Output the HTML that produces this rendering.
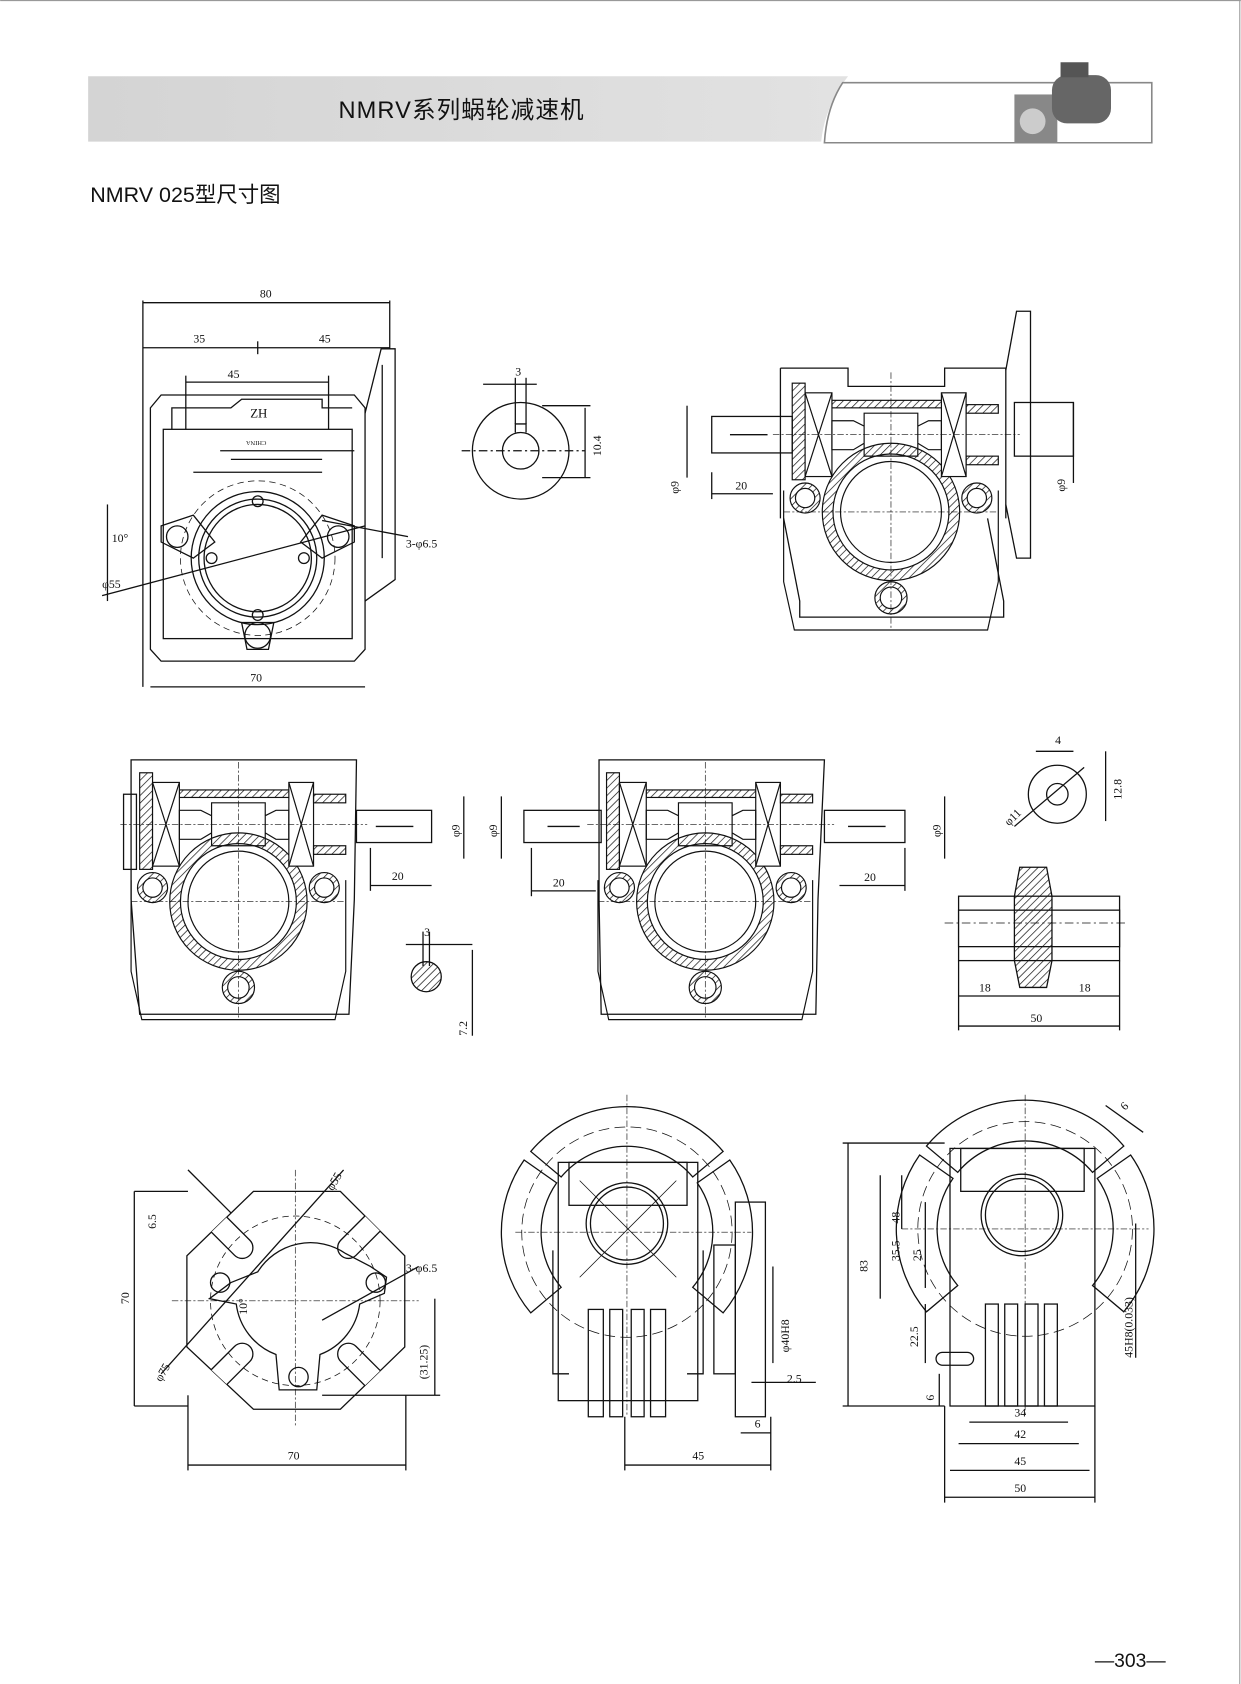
<!DOCTYPE html>
<html><head><meta charset="utf-8"><style>
html,body{margin:0;padding:0;background:#fff;}
svg{display:block}
text{font-family:"Liberation Serif","Noto Serif CJK SC",serif;fill:#111}
.s{font-family:"Liberation Sans","Noto Sans CJK SC",sans-serif}
</style></head><body>
<svg width="1241" height="1684" viewBox="0 0 1156 1569" xmlns="http://www.w3.org/2000/svg">
<defs>
<linearGradient id="g" x1="0" x2="1"><stop offset="0" stop-color="#d4d4d4"/><stop offset="1" stop-color="#e2e2e2"/></linearGradient>
<linearGradient id="f" x1="0" x2="1"><stop offset="0" stop-color="#999"/><stop offset="1" stop-color="#fff"/></linearGradient>
<pattern id="h" width="5" height="5" patternUnits="userSpaceOnUse" patternTransform="rotate(45)"><line x1="0" y1="0" x2="0" y2="5" stroke="#111" stroke-width="1.3"/></pattern>
<clipPath id="oct"><polygon points="236,1110 317,1110 377,1170 377,1255 317,1313 236,1313 174,1255 174,1170"/></clipPath>
<g id="sec" stroke="#111" stroke-width="1.1">
<path d="M0 -64 A64 64 0 1 1 0 64 A64 64 0 1 1 0 -64 Z M0 -54 A54 54 0 1 0 0 54 A54 54 0 1 0 0 -54 Z" fill="url(#h)" fill-rule="evenodd"/>
<circle cx="0" cy="0" r="47" fill="none"/>
<path d="M-80 -13 m-14 0 a14 14 0 1 0 28 0 a14 14 0 1 0 -28 0 Z M-80 -13 m-9 0 a9 9 0 1 1 18 0 a9 9 0 1 1 -18 0Z" fill="url(#h)" fill-rule="evenodd"/>
<path d="M80 -13 m-14 0 a14 14 0 1 0 28 0 a14 14 0 1 0 -28 0 Z M80 -13 m-9 0 a9 9 0 1 1 18 0 a9 9 0 1 1 -18 0Z" fill="url(#h)" fill-rule="evenodd"/>
<path d="M0 80 m-15 0 a15 15 0 1 0 30 0 a15 15 0 1 0 -30 0 Z M0 80 m-10 0 a10 10 0 1 1 20 0 a10 10 0 1 1 -20 0Z" fill="url(#h)" fill-rule="evenodd"/>
<rect x="-55" y="-104" width="105" height="7" fill="url(#h)"/>
<rect x="-92" y="-120" width="12" height="90" fill="url(#h)"/>
<rect x="-80" y="-111" width="25" height="78" fill="#fff"/>
<path d="M-80 -111 L-55 -33 M-55 -111 L-80 -33" fill="none"/>
<rect x="47" y="-111" width="23" height="78" fill="#fff"/>
<path d="M47 -111 L70 -33 M70 -111 L47 -33" fill="none"/>
<rect x="70" y="-100" width="30" height="8" fill="url(#h)"/>
<rect x="70" y="-52" width="30" height="8" fill="url(#h)"/>
<path d="M-55 -85 L-35 -85 L-25 -80 L-25 -64 L-35 -58 L-55 -58 Z M-25 -92 L25 -92 L25 -52 L-25 -52 Z M25 -80 L35 -85 L47 -85 L47 -58 L35 -58 L25 -64" fill="none"/>
<line x1="-110" y1="-72" x2="120" y2="-72" stroke-dasharray="6 2 2 2" stroke-width="0.6"/>
<line x1="-100" y1="0" x2="100" y2="0" stroke-dasharray="6 2 2 2" stroke-width="0.6"/>
<line x1="0" y1="-130" x2="0" y2="110" stroke-dasharray="6 2 2 2" stroke-width="0.6"/>
<path d="M-100 -20 L-100 65 L-90 110 L90 110 L100 65 L100 -20" fill="none"/>
</g>
</defs>
<rect x="0" y="0" width="1156" height="1569" fill="#fff"/>
<line x1="0" y1="0.5" x2="1156" y2="0.5" stroke="#999"/>
<line x1="1155" y1="0" x2="1155" y2="1569" stroke="#999"/>
<path d="M82 71 H790 Q768 100 765 132 H82 Z" fill="url(#g)"/>
<path d="M1073 77 H785 Q770 100 768 133 H1073 Z" fill="none" stroke="#888" stroke-width="1.5"/>
<g stroke="url(#f)" stroke-width="1.5">
<line x1="782" y1="84" x2="920" y2="84"/><line x1="778" y1="91" x2="920" y2="91"/><line x1="776" y1="98" x2="920" y2="98"/><line x1="774" y1="105" x2="920" y2="105"/><line x1="772" y1="112" x2="920" y2="112"/><line x1="771" y1="119" x2="920" y2="119"/><line x1="770" y1="126" x2="920" y2="126"/></g>
<g><rect x="945" y="88" width="40" height="45" fill="#888"/><rect x="980" y="70" width="55" height="45" rx="14" fill="#666"/><rect x="988" y="58" width="26" height="14" fill="#555"/><circle cx="962" cy="113" r="12" fill="#ccc"/></g>
<text class="s" x="430" y="110" font-size="22" text-anchor="middle" letter-spacing="1">NMRV系列蜗轮减速机</text>
<text class="s" x="84" y="188" font-size="20">NMRV 025型尺寸图</text>
<text class="s" x="1020" y="1553" font-size="18">—303—</text>
<g fill="none" stroke="#111" stroke-width="1.2">
<!-- view 1 -->
<path d="M140 380 L150 368 L330 368 L340 380 L340 605 L330 616 L150 616 L140 605 Z"/>
<rect x="152" y="400" width="176" height="195"/>
<path d="M160 400 L160 380 L215 380 L225 372 L300 372 L300 380 L328 380"/>
<path d="M205 420 L330 420 M215 428 L300 428 M180 440 L300 440"/>
<path d="M340 385 L355 325 L368 325 L368 540 L340 560"/><line x1="356" y1="340" x2="356" y2="520"/>
<circle cx="240" cy="520" r="72" stroke-dasharray="6 4" stroke-width="0.7"/>
<circle cx="240" cy="520" r="62"/><circle cx="240" cy="520" r="55"/><circle cx="240" cy="520" r="50"/>
<path d="M150 490 L180 480 L200 505 L180 520 L150 505 Z M330 490 L300 480 L280 505 L300 520 L330 505 Z M225 580 L255 580 L250 605 L230 605 Z"/>
<circle cx="165" cy="500" r="10"/><circle cx="315" cy="500" r="10"/><circle cx="240" cy="592" r="12"/>
<circle cx="240" cy="467" r="5"/><circle cx="240" cy="573" r="5"/><circle cx="197" cy="520" r="5"/><circle cx="283" cy="520" r="5"/>
<line x1="133" y1="280" x2="133" y2="640"/><line x1="363" y1="280" x2="363" y2="325"/>
<line x1="133" y1="282" x2="363" y2="282"/><line x1="133" y1="324" x2="363" y2="324"/>
<line x1="240" y1="318" x2="240" y2="330"/><line x1="173" y1="356" x2="306" y2="356"/>
<line x1="173" y1="350" x2="173" y2="400"/><line x1="306" y1="350" x2="306" y2="400"/>
<line x1="140" y1="640" x2="340" y2="640"/>
<line x1="95" y1="555" x2="340" y2="490"/><line x1="300" y1="485" x2="380" y2="500"/>
<line x1="100" y1="470" x2="100" y2="560"/>
<!-- view 2 key -->
<circle cx="485" cy="420" r="45"/><path d="M485 403 A17 17 0 1 0 485 437 A17 17 0 1 0 485 403 M480 403 L480 395 L490 395 L490 403"/>
<line x1="450" y1="358" x2="500" y2="358"/><line x1="480" y1="352" x2="480" y2="395"/><line x1="490" y1="352" x2="490" y2="395"/>
<line x1="545" y1="380" x2="545" y2="445"/><line x1="505" y1="378" x2="550" y2="378"/><line x1="505" y1="445" x2="550" y2="445"/>
<line x1="430" y1="420" x2="545" y2="420" stroke-dasharray="8 3 2 3"/>
<!-- view 3 -->
<path d="M727 343 L790 343 L790 360 L880 360 L880 343 L937 343 L937 483"/><line x1="727" y1="343" x2="727" y2="483"/>
<path d="M730 483 L745 560 L745 575 L935 575 L935 560 L920 483"/>
<path d="M937 345 L947 290 L960 290 L960 520 L947 520 L937 470"/>
<rect x="663" y="388" width="75" height="34"/><line x1="680" y1="405" x2="715" y2="405"/>
<rect x="945" y="375" width="55" height="50"/>
<use href="#sec" transform="translate(830 477)"/>
<line x1="640" y1="378" x2="640" y2="445"/><line x1="663" y1="460" x2="720" y2="460"/><line x1="1000" y1="375" x2="1000" y2="450"/>
<line x1="663" y1="440" x2="663" y2="465"/>
<!-- row 2 view a -->
<path d="M122 708 L122 838 L130 945 L325 945 L330 838 L332 708 Z"/>
<rect x="115" y="740" width="12" height="70"/>
<rect x="332" y="755" width="70" height="30"/><line x1="350" y1="770" x2="385" y2="770"/>
<use href="#sec" transform="translate(222 840)"/>
<line x1="432" y1="742" x2="432" y2="800"/><line x1="345" y1="825" x2="402" y2="825"/><line x1="345" y1="790" x2="345" y2="830"/>
<path d="M383 910 A14 14 0 1 0 411 910 A14 14 0 1 0 383 910 Z" fill="url(#h)"/><line x1="378" y1="880" x2="440" y2="880"/><line x1="440" y1="885" x2="440" y2="965"/>
<line x1="394" y1="868" x2="394" y2="900"/><line x1="400" y1="868" x2="400" y2="900"/>
<!-- row 2 view b -->
<path d="M558 708 L558 838 L560 945 L760 945 L762 838 L768 708 Z"/>
<rect x="488" y="755" width="72" height="30"/><line x1="510" y1="770" x2="540" y2="770"/>
<rect x="768" y="755" width="75" height="30"/><line x1="790" y1="770" x2="825" y2="770"/>
<use href="#sec" transform="translate(657 840)"/>
<line x1="467" y1="742" x2="467" y2="800"/><line x1="495" y1="830" x2="555" y2="830"/><line x1="495" y1="790" x2="495" y2="835"/>
<line x1="880" y1="742" x2="880" y2="800"/><line x1="782" y1="825" x2="843" y2="825"/><line x1="843" y1="790" x2="843" y2="830"/>
<!-- key 3 -->
<circle cx="985" cy="740" r="27"/><circle cx="985" cy="740" r="10"/>
<line x1="1030" y1="700" x2="1030" y2="765"/><line x1="965" y1="700" x2="1000" y2="700"/>
<line x1="945" y1="770" x2="1010" y2="715"/>
<!-- wormwheel -->
<rect x="893" y="835" width="150" height="60"/><rect x="893" y="848" width="150" height="34" fill="#fff"/>
<path d="M945 835 L950 808 L975 808 L980 835 L980 895 L975 920 L950 920 L945 895 Z" fill="url(#h)"/>
<line x1="880" y1="860" x2="1050" y2="860" stroke-dasharray="8 3 2 3" stroke-width="0.7"/>
<line x1="893" y1="928" x2="1043" y2="928"/><line x1="893" y1="956" x2="1043" y2="956"/>
<line x1="893" y1="895" x2="893" y2="960"/><line x1="1043" y1="895" x2="1043" y2="960"/>
<!-- row 3 view a -->
<polygon points="236,1110 317,1110 377,1170 377,1255 317,1313 236,1313 174,1255 174,1170"/>
<g clip-path="url(#oct)" fill="#fff">
<rect x="60" y="-10" width="100" height="20" rx="10" transform="translate(275 1212) rotate(-45)"/>
<rect x="60" y="-10" width="100" height="20" rx="10" transform="translate(275 1212) rotate(45)"/>
<rect x="60" y="-10" width="100" height="20" rx="10" transform="translate(275 1212) rotate(135)"/>
<rect x="60" y="-10" width="100" height="20" rx="10" transform="translate(275 1212) rotate(-135)"/>
</g>
<circle cx="275" cy="1212" r="79" stroke-dasharray="6 4" stroke-width="0.7"/>
<path d="M215 1195 L240 1185 A58 58 0 0 1 322 1168 L345 1180 L360 1190 L358 1205 L335 1215 A58 58 0 0 1 298 1262 L295 1295 L260 1295 L257 1262 A58 58 0 0 1 220 1215 L195 1210 Z"/>
<circle cx="205" cy="1195" r="9"/><circle cx="350" cy="1195" r="9"/><circle cx="278" cy="1283" r="9"/>
<line x1="125" y1="1110" x2="175" y2="1110"/><line x1="125" y1="1110" x2="125" y2="1310"/><line x1="125" y1="1310" x2="175" y2="1310"/>
<line x1="175" y1="1365" x2="378" y2="1365"/><line x1="175" y1="1300" x2="175" y2="1370"/><line x1="378" y1="1300" x2="378" y2="1370"/>
<line x1="405" y1="1210" x2="405" y2="1300"/><line x1="300" y1="1300" x2="410" y2="1300"/>
<line x1="150" y1="1280" x2="320" y2="1090"/><line x1="300" y1="1230" x2="390" y2="1180"/>
<line x1="175" y1="1090" x2="215" y2="1130"/>
<line x1="160" y1="1212" x2="390" y2="1212" stroke-dasharray="6 2 2 2" stroke-width="0.6"/>
<line x1="275" y1="1090" x2="275" y2="1330" stroke-dasharray="6 2 2 2" stroke-width="0.6"/>
<!-- row 3 view b -->
<path d="M494.4 1072.8 A117 117 0 0 1 673.6 1072.8 L645.3 1096.6 A80 80 0 0 0 522.7 1096.6 Z"/>
<path d="M679.8 1080.8 A117 117 0 0 1 673.6 1223.2 L645.3 1199.4 A80 80 0 0 0 649.5 1102.1 Z"/>
<path d="M494.4 1223.2 A117 117 0 0 1 488.2 1080.8 L518.5 1102.1 A80 80 0 0 0 522.7 1199.4 Z"/>
<circle cx="584" cy="1148" r="98" stroke-dasharray="10 5" stroke-width="0.7"/>
<rect x="520" y="1083" width="130" height="222"/>
<rect x="530" y="1083" width="110" height="40"/>
<circle cx="584" cy="1140" r="38"/><circle cx="584" cy="1140" r="34"/>
<line x1="540" y1="1100" x2="630" y2="1190" stroke-width="0.7"/><line x1="630" y1="1100" x2="540" y2="1190" stroke-width="0.7"/>
<rect x="548" y="1220" width="14" height="100"/><rect x="568" y="1220" width="12" height="100"/><rect x="588" y="1220" width="12" height="100"/><rect x="606" y="1220" width="14" height="100"/>
<path d="M515 1165 L515 1280 L530 1280 M655 1165 L655 1280 L640 1280"/>
<rect x="685" y="1120" width="28" height="200"/><rect x="665" y="1160" width="20" height="120"/>
<line x1="720" y1="1180" x2="720" y2="1270"/>
<line x1="582" y1="1365" x2="718" y2="1365"/><line x1="582" y1="1320" x2="582" y2="1370"/><line x1="718" y1="1320" x2="718" y2="1370"/>
<line x1="690" y1="1335" x2="718" y2="1335"/><line x1="700" y1="1288" x2="760" y2="1288"/>
<line x1="480" y1="1148" x2="700" y2="1148" stroke-dasharray="6 2 2 2" stroke-width="0.6"/>
<line x1="584" y1="1020" x2="584" y2="1320" stroke-dasharray="6 2 2 2" stroke-width="0.6"/>
<!-- row 3 view c -->
<path d="M863.1 1067.8 A120 120 0 0 1 1046.9 1067.8 L1017.8 1092.3 A82 82 0 0 0 892.2 1092.3 Z"/>
<path d="M1053.3 1076.1 A120 120 0 0 1 1046.9 1222.2 L1017.8 1197.7 A82 82 0 0 0 1022.2 1097.9 Z"/>
<path d="M863.1 1222.2 A120 120 0 0 1 856.7 1076.1 L887.8 1097.9 A82 82 0 0 0 892.2 1197.7 Z"/>
<circle cx="955" cy="1145" r="100" stroke-dasharray="10 5" stroke-width="0.7"/>
<rect x="885" y="1070" width="135" height="240"/><rect x="895" y="1070" width="115" height="40"/>
<circle cx="952" cy="1132" r="38"/><circle cx="952" cy="1132" r="34"/>
<rect x="918" y="1215" width="12" height="95"/><rect x="936" y="1215" width="12" height="95"/><rect x="955" y="1215" width="12" height="95"/><rect x="973" y="1215" width="12" height="95"/>
<rect x="872" y="1260" width="35" height="12" rx="6"/>
<line x1="785" y1="1065" x2="880" y2="1065"/><line x1="785" y1="1310" x2="880" y2="1310"/>
<line x1="790" y1="1065" x2="790" y2="1310"/><line x1="820" y1="1095" x2="820" y2="1210"/>
<line x1="840" y1="1095" x2="840" y2="1145"/><line x1="862" y1="1120" x2="862" y2="1200"/>
<line x1="862" y1="1215" x2="862" y2="1270"/><line x1="875" y1="1280" x2="875" y2="1310"/>
<line x1="1058" y1="1140" x2="1058" y2="1265"/>
<line x1="903" y1="1325" x2="995" y2="1325"/><line x1="893" y1="1345" x2="1005" y2="1345"/>
<line x1="885" y1="1370" x2="1015" y2="1370"/><line x1="880" y1="1395" x2="1020" y2="1395"/>
<line x1="880" y1="1310" x2="880" y2="1400"/><line x1="1020" y1="1310" x2="1020" y2="1400"/>
<line x1="1030" y1="1030" x2="1065" y2="1055"/>
<line x1="840" y1="1145" x2="1070" y2="1145" stroke-dasharray="6 2 2 2" stroke-width="0.6"/>
<line x1="955" y1="1020" x2="955" y2="1320" stroke-dasharray="6 2 2 2" stroke-width="0.6"/>
</g>
<g font-size="11">
<text x="242" y="277">80</text><text x="180" y="319">35</text><text x="297" y="319">45</text><text x="212" y="352">45</text>
<text x="233" y="635">70</text><text x="95" y="548">φ55</text><text x="378" y="510">3-φ6.5</text><text x="104" y="505">10°</text>
<text x="480" y="350">3</text><text x="560" y="425" transform="rotate(-90 560 425)">10.4</text>
<text x="632" y="460" transform="rotate(-90 632 460)">φ9</text><text x="685" y="456">20</text><text x="992" y="458" transform="rotate(-90 992 458)">φ9</text>
<text x="428" y="780" transform="rotate(-90 428 780)">φ9</text><text x="365" y="820">20</text>
<text x="395" y="872">3</text><text x="435" y="965" transform="rotate(-90 435 965)">7.2</text>
<text x="463" y="780" transform="rotate(-90 463 780)">φ9</text><text x="515" y="826">20</text>
<text x="876" y="780" transform="rotate(-90 876 780)">φ9</text><text x="805" y="821">20</text>
<text x="983" y="693">4</text><text x="1045" y="745" transform="rotate(-90 1045 745)">12.8</text><text x="940" y="770" transform="rotate(-45 940 770)">φ11</text>
<text x="912" y="924">18</text><text x="1005" y="924">18</text><text x="960" y="952">50</text>
<text x="145" y="1145" transform="rotate(-90 145 1145)">6.5</text><text x="120" y="1215" transform="rotate(-90 120 1215)">70</text>
<text x="310" y="1110" transform="rotate(-60 310 1110)">φ55</text><text x="378" y="1185">3-φ6.5</text>
<text x="150" y="1288" transform="rotate(-60 150 1288)">φ75</text><text x="230" y="1225" transform="rotate(-90 230 1225)">10°</text>
<text x="398" y="1285" transform="rotate(-90 398 1285)">(31.25)</text><text x="268" y="1360">70</text>
<text x="735" y="1260" transform="rotate(-90 735 1260)">φ40H8</text><text x="733" y="1288">2.5</text><text x="703" y="1330">6</text><text x="645" y="1360">45</text>
<text x="808" y="1185" transform="rotate(-90 808 1185)">83</text><text x="838" y="1140" transform="rotate(-90 838 1140)">48</text>
<text x="838" y="1175" transform="rotate(-90 838 1175)">35.5</text><text x="858" y="1175" transform="rotate(-90 858 1175)">25</text>
<text x="855" y="1255" transform="rotate(-90 855 1255)">22.5</text><text x="870" y="1305" transform="rotate(-90 870 1305)">6</text>
<text x="1055" y="1265" transform="rotate(-90 1055 1265)">45H8(0.033)</text>
<text x="945" y="1320">34</text><text x="945" y="1340">42</text><text x="945" y="1365">45</text><text x="945" y="1390">50</text>
<text x="1048" y="1035" transform="rotate(-45 1048 1035)">6</text>
<text x="233" y="389" font-size="12">ZH</text><text x="232" y="415" font-size="6" transform="rotate(180 240 413)">CHINA</text>
</g>
</svg>
</body></html>
